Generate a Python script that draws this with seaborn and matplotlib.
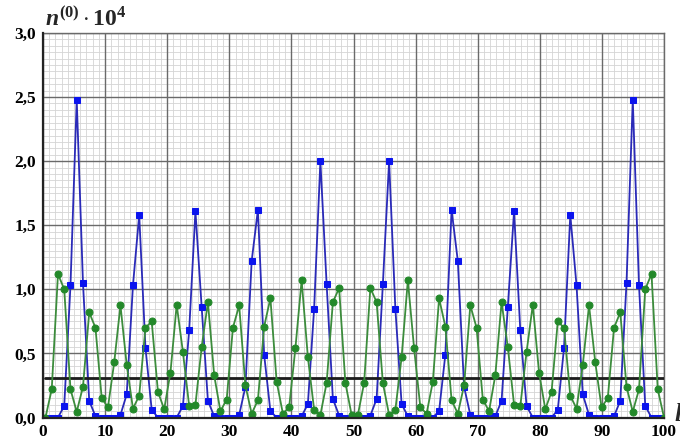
import numpy as np
import matplotlib
matplotlib.use("Agg")
import matplotlib.pyplot as plt
from matplotlib.ticker import FuncFormatter, MultipleLocator
import seaborn as sns

# ----------------------
# Data
# ----------------------
blue_vals = [0, 0, 0, 0.09, 1.03, 2.48, 1.05, 0.13, 0.01, 0,
             0, 0, 0.02, 0.18, 1.03, 1.58, 0.545, 0.06, 0, 0,
             0, 0, 0.09, 0.68, 1.61, 0.86, 0.13, 0.01, 0, 0,
             0, 0.02, 0.24, 1.22, 1.62, 0.49, 0.05, 0, 0, 0,
             0, 0.01, 0.105, 0.85, 2.0, 1.04, 0.145, 0.015, 0, 0,
             0, 0, 0.015, 0.145, 1.04, 2.0, 0.85, 0.105, 0.01, 0,
             0, 0, 0, 0.05, 0.49, 1.62, 1.22, 0.24, 0.02, 0,
             0, 0, 0.01, 0.13, 0.86, 1.61, 0.68, 0.09, 0, 0,
             0, 0, 0.06, 0.545, 1.58, 1.03, 0.18, 0.02, 0, 0,
             0, 0.01, 0.13, 1.05, 2.48, 1.03, 0.09, 0, 0, 0]

green_vals = [0.0, 0.22, 1.12, 1.0, 0.22, 0.045, 0.24, 0.82, 0.70, 0.15,
              0.08, 0.43, 0.875, 0.41, 0.07, 0.17, 0.70, 0.75, 0.20, 0.065,
              0.35, 0.88, 0.51, 0.09, 0.10, 0.55, 0.90, 0.33, 0.05, 0.14,
              0.70, 0.875, 0.25, 0.03, 0.135, 0.71, 0.93, 0.28, 0.03, 0.08,
              0.54, 1.07, 0.47, 0.06, 0.02, 0.27, 0.90, 1.01, 0.27, 0.02,
              0.02, 0.27, 1.01, 0.90, 0.27, 0.02, 0.06, 0.47, 1.07, 0.54,
              0.08, 0.03, 0.28, 0.93, 0.71, 0.135, 0.03, 0.25, 0.875, 0.70,
              0.14, 0.05, 0.33, 0.90, 0.55, 0.10, 0.09, 0.51, 0.88, 0.35,
              0.065, 0.20, 0.75, 0.70, 0.17, 0.07, 0.41, 0.875, 0.43, 0.08,
              0.15, 0.70, 0.82, 0.24, 0.045, 0.22, 1.0, 1.12, 0.22, 0.0]

mean_level = 0.31

x_ticks = [0, 10, 20, 30, 40, 50, 60, 70, 80, 90, 100]
y_ticks = [0.0, 0.5, 1.0, 1.5, 2.0, 2.5, 3.0]

l_pos = np.linspace(0.4, 100, len(blue_vals))

# ----------------------
# Style
# ----------------------
sns.set_theme(style="white")
plt.rcParams["font.family"] = ["Liberation Serif", "DejaVu Serif"]
plt.rcParams["mathtext.fontset"] = "custom"
plt.rcParams["mathtext.rm"] = "Liberation Serif:bold"
plt.rcParams["mathtext.it"] = "Liberation Serif:italic:bold"
plt.rcParams["mathtext.bf"] = "Liberation Serif:bold"

fig = plt.figure(figsize=(6.8, 4.46), dpi=100)
ax = fig.add_axes([43 / 680, 28.5 / 446, 621 / 680, 384.5 / 446])

# ----------------------
# Grid: light minor grid, darker major lines on top of it
# ----------------------
ax.xaxis.set_minor_locator(MultipleLocator(1))
ax.yaxis.set_minor_locator(MultipleLocator(0.05))
ax.grid(which="minor", color="#d4d4d4", linewidth=0.6)
ax.grid(which="major", visible=False)
for xv in x_ticks:
    ax.axvline(xv, color="#6a6a6a", linewidth=1.0, zorder=1)
for yv in y_ticks:
    ax.axhline(yv, color="#6a6a6a", linewidth=1.0, zorder=1)
ax.set_axisbelow(True)

# ----------------------
# Series
# ----------------------
sns.lineplot(x=l_pos, y=blue_vals, ax=ax, color="#2a2ab8", linewidth=1.3,
             marker="s", markersize=4.6, markerfacecolor="#0b14ee",
             markeredgecolor="#0b14ee", zorder=3)
sns.lineplot(x=l_pos, y=np.full(len(l_pos), mean_level), ax=ax,
             color="#1c1c1c", linewidth=2.0, zorder=4)
sns.lineplot(x=l_pos, y=green_vals, ax=ax, color="#3c8c3c", linewidth=1.3,
             marker="o", markersize=5.0, markerfacecolor="#23892a",
             markeredgecolor="#23892a", zorder=5)

# ----------------------
# Axes
# ----------------------
ax.set_xlim(0, 100)
ax.set_ylim(0, 3.0)
ax.set_xticks(x_ticks)
ax.set_yticks(y_ticks)

ax.yaxis.set_major_formatter(FuncFormatter(lambda v, p: f"{v:.1f}".replace(".", ",")))
ax.tick_params(which="major", direction="out", length=3, width=1.2, colors="#222222",
               labelsize=12.5, labelcolor="black", pad=2)
ax.tick_params(which="minor", length=0)
for lab in ax.get_xticklabels() + ax.get_yticklabels():
    lab.set_fontweight("bold")

for side in ["left", "bottom"]:
    ax.spines[side].set_color("#222222")
    ax.spines[side].set_linewidth(1.6)
    ax.spines[side].set_zorder(6)
for side in ["top", "right"]:
    ax.spines[side].set_color("#6a6a6a")
    ax.spines[side].set_linewidth(1.0)

ax.set_xlabel("")
ax.set_ylabel("")

# axis titles
fig.text(45 / 680, 1 - 26 / 446, r"$n^{(0)}\cdot 10^{4}$", fontsize=17,
         ha="left", va="baseline")
fig.text(674 / 680, 1 - 421 / 446, "l", fontsize=18, fontstyle="italic",
         fontweight="bold", ha="left", va="baseline")

fig.savefig("out.png", dpi=100)
plt.close(fig)
